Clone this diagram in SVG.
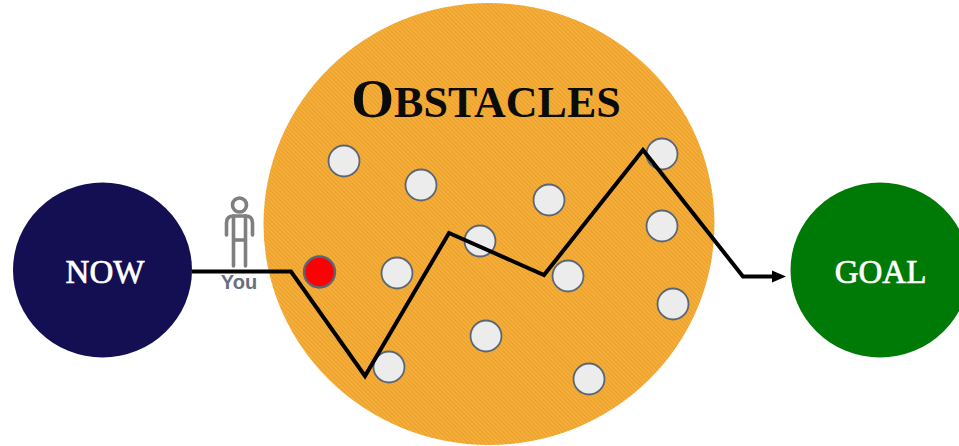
<svg xmlns="http://www.w3.org/2000/svg" width="959" height="446" viewBox="0 0 959 446">
<style>
.t{font-family:"Liberation Serif",serif;font-weight:700}
.l{font-family:"Liberation Serif",serif;font-weight:400;font-size:33px;fill:#fff;stroke:#fff;stroke-width:.7;text-anchor:middle}
.o{fill:#ececec;stroke:#5a6675;stroke-width:1.8}
.p{fill:none;stroke:#7f7f7f;stroke-width:3.6;stroke-linecap:round;stroke-linejoin:round}
.c{fill:none;stroke:#000;stroke-width:4;stroke-linejoin:miter}
</style>
<defs>
<pattern id="h" width="3" height="3" patternUnits="userSpaceOnUse" patternTransform="rotate(45)">
<rect width="3" height="3" fill="#f5ae3a"/><rect width="3" height="1" fill="#ea9f2a"/>
</pattern>
<marker id="a" markerUnits="userSpaceOnUse" markerWidth="14" markerHeight="14" refX="1" refY="7" orient="auto"><path d="M0 1L14 7L0 13Z" fill="#000"/></marker>
</defs>
<rect width="959" height="446" fill="#fff"/>
<g id="obstacles"><ellipse cx="489" cy="224" rx="225.500" ry="221" fill="url(#h)"/>
<text class="t" x="486" y="117" text-anchor="middle" font-size="55" fill="#0b0b0b">O<tspan font-size="44">BSTACLES</tspan></text></g>
<g id="now"><ellipse cx="102.500" cy="270" rx="89.500" ry="87.500" fill="#140f52"/><text class="l" x="105" y="283">NOW</text></g>
<g id="goal"><ellipse cx="880" cy="270" rx="89.500" ry="87.500" fill="#007a07"/><text class="l" x="880.500" y="283">GOAL</text></g>
<g id="o1"><circle class="o" cx="344" cy="161" r="15.500"/></g>
<g id="o2"><circle class="o" cx="421" cy="185" r="15.500"/></g>
<g id="o3"><circle class="o" cx="549" cy="200" r="15.500"/></g>
<g id="o4"><circle class="o" cx="662" cy="154" r="15.500"/></g>
<g id="o5"><circle class="o" cx="662" cy="226" r="15.500"/></g>
<g id="o6"><circle class="o" cx="480" cy="241" r="15.500"/></g>
<g id="o7"><circle class="o" cx="397" cy="273" r="15.500"/></g>
<g id="o8"><circle class="o" cx="568" cy="276" r="15.500"/></g>
<g id="o9"><circle class="o" cx="673" cy="304" r="15.500"/></g>
<g id="o10"><circle class="o" cx="486" cy="336" r="15.500"/></g>
<g id="o11"><circle class="o" cx="389" cy="367" r="15.500"/></g>
<g id="o12"><circle class="o" cx="589" cy="379" r="15.500"/></g>
<g id="red"><circle cx="319.500" cy="272" r="15.500" fill="#fe0000" stroke="#5a6675" stroke-width="2.400"/></g>
<g id="you">
<circle class="p" cx="239.500" cy="205" r="7"/>
<path class="p" d="M226.500 235V223Q226.500 216 233.500 216H245.500Q252.500 216 252.500 223V235"/>
<path class="p" d="M233.500 216V266M245.500 216V266M233.500 240H245.500"/>
<text x="239" y="289" text-anchor="middle" font-family="Liberation Sans,sans-serif" font-weight="700" font-size="20" fill="#667080">You</text>
</g>
<g id="connectors"><path class="c" marker-end="url(#a)" d="M192 271.500H291L365 376L449 233L544 275L643 150L743 276.500H773"/></g>
</svg>
